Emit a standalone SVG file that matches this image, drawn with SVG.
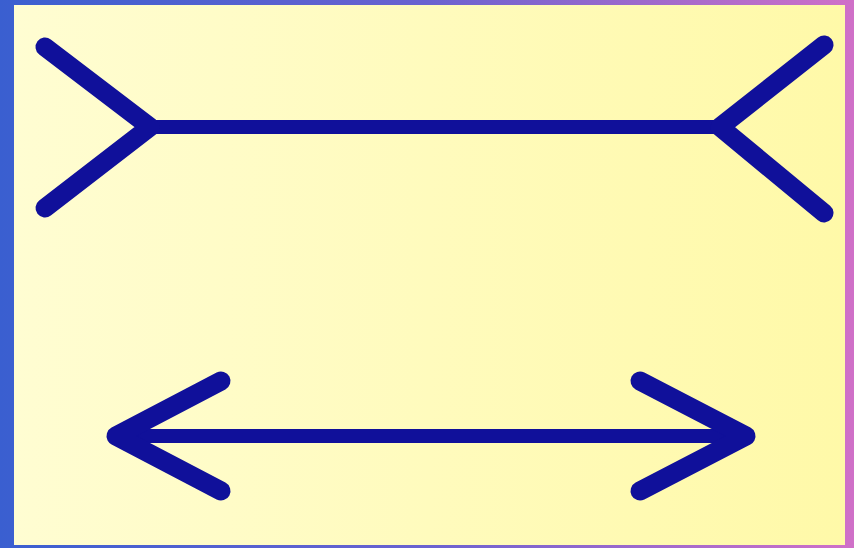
<svg xmlns="http://www.w3.org/2000/svg" width="854" height="548" viewBox="0 0 854 548">
<defs>
<linearGradient id="bg" x1="0" y1="0" x2="1" y2="0">
<stop offset="0" stop-color="#3a5fd0"/>
<stop offset="0.5" stop-color="#6a62d0"/>
<stop offset="1" stop-color="#d070c8"/>
</linearGradient>
<linearGradient id="panel" x1="0" y1="0" x2="1" y2="0">
<stop offset="0" stop-color="#fffdd2"/>
<stop offset="1" stop-color="#fff9a8"/>
</linearGradient>
</defs>
<style>
.fin{fill:none;stroke:#10109a;stroke-width:19;stroke-linecap:round;stroke-linejoin:round}
.shaft{fill:none;stroke:#10109a;stroke-width:14;stroke-linecap:butt}
</style>
<rect x="0" y="0" width="854" height="548" fill="url(#bg)"/>
<rect x="14" y="5" width="831" height="540" fill="url(#panel)"/>
<g id="top-figure">
<line class="shaft" x1="150" y1="127" x2="722" y2="127"/>
<polyline class="fin" points="45,47 150,127 45,208"/>
<polyline class="fin" points="824,45 720,127 824,213"/>
</g>
<g id="bottom-figure">
<line class="shaft" x1="120" y1="436" x2="745" y2="436"/>
<polyline class="fin" points="221,381 116,436 221,491"/>
<polyline class="fin" points="640,381 746,436 640,491"/>
</g>
</svg>
